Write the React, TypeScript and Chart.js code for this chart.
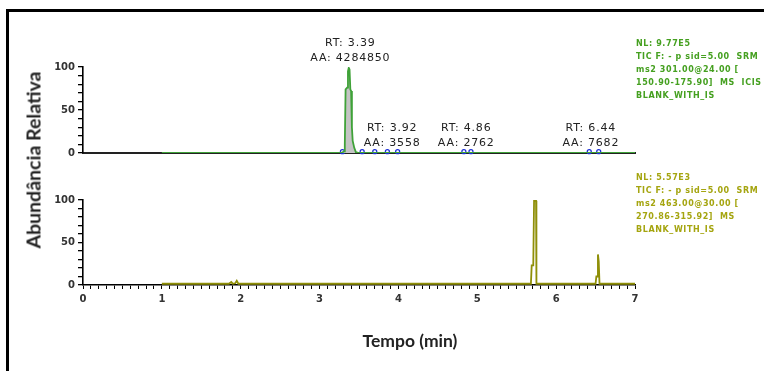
import React, { useEffect, useRef } from 'react';
import { Chart, registerables } from 'chart.js';
Chart.register(...registerables);

// ---- data ----
const timeMin = 0;
const timeMax = 7;
const abundanceTicks = [0, 50, 100];

// Top trace (TIC, SRM ms2 301.00)
const topTimes = [1.0, 2.0, 3.0, 3.28, 3.31, 3.32, 3.33, 3.35, 3.36, 3.37, 3.38, 3.39, 3.4, 3.41, 3.42, 3.44, 3.46, 3.5, 4.0, 5.0, 6.0, 7.0];
const topAbund = [0, 0, 0, 0, 2, 10, 74, 76, 95, 99, 97, 74, 72, 30, 14, 6, 1, 0, 0, 0, 0, 0];

// integration boundary markers (top trace)
const markerTimes = [3.29, 3.54, 3.7, 3.86, 3.99, 4.83, 4.92, 6.42, 6.54];
const markerAbund = [1.5, 1.5, 1.5, 1.5, 1.5, 1.5, 1.5, 1.5, 1.5];

// peak annotations (top trace)
const peakRT = [3.39, 3.92, 4.86, 6.44];
const peakArea = [4284850, 3558, 2762, 7682];
const peakHeight = [99, 0, 0, 0];

// Bottom trace (TIC, SRM ms2 463.00)
const bottomTimes = [1.0, 1.85, 1.88, 1.9, 1.93, 1.95, 1.97, 2.0, 3.0, 4.0, 5.0, 5.68, 5.69, 5.71, 5.72, 5.745, 5.75, 6.0, 6.5, 6.51, 6.52, 6.53, 6.54, 6.55, 7.0];
const bottomAbund = [1.5, 1.5, 3.5, 1.5, 2, 5, 1.5, 1.5, 1.5, 1.5, 1.5, 1.5, 23, 23, 99, 99, 1.5, 1.5, 1.5, 10, 10, 36, 28, 1.5, 1.5];

const topInfo = ['NL: 9.77E5', 'TIC F: - p sid=5.00  SRM', 'ms2 301.00@24.00 [', '150.90-175.90]  MS  ICIS', 'BLANK_WITH_IS'];
const bottomInfo = ['NL: 5.57E3', 'TIC F: - p sid=5.00  SRM', 'ms2 463.00@30.00 [', '270.86-315.92]  MS', 'BLANK_WITH_IS'];

const GREEN = '#3fa238';
const OLIVE = '#8f8f08';
const TICK_FONT = { family: '"DejaVu Sans", sans-serif', size: 10, weight: 'bold' as const };

const yAxis = () => ({
  type: 'linear',
  min: 0,
  max: 100,
  afterFit: (s: any) => { s.width = 40; },
  afterBuildTicks: (s: any) => {
    const t: any[] = [];
    for (let v = 0; v <= 100; v += 10) t.push({ value: v });
    s.ticks = t;
  },
  ticks: {
    autoSkip: false,
    padding: 3,
    color: '#333',
    font: TICK_FONT,
    callback: (v: any) => (abundanceTicks.includes(Math.round(Number(v))) ? String(Math.round(Number(v))) : ''),
  },
  grid: { drawOnChartArea: false, drawTicks: true, tickLength: 5, color: '#000', tickColor: '#000', lineWidth: 1.3 },
  border: { display: true, color: '#000', width: 1.6 },
});

const peakLabelPlugin = {
  id: 'peakLabels',
  afterDatasetsDraw(chart: any) {
    const { ctx, scales } = chart;
    const x = scales.x;
    const y = scales.y;
    ctx.save();
    ctx.font = '11px "DejaVu Sans", sans-serif';
    ctx.fillStyle = '#222';
    ctx.textAlign = 'center';
    ctx.textBaseline = 'bottom';
    (ctx as any).letterSpacing = '0.8px';
    peakRT.forEach((rt, i) => {
      const px = x.getPixelForValue(rt);
      const py = y.getPixelForValue(peakHeight[i]) - 4;
      ctx.fillText('AA: ' + peakArea[i], px, py);
      ctx.fillText('RT: ' + rt.toFixed(2), px, py - 15);
    });
    ctx.restore();
  },
};

export default function App() {
  const topRef = useRef<HTMLCanvasElement>(null);
  const botRef = useRef<HTMLCanvasElement>(null);

  useEffect(() => {
    const top = new Chart(topRef.current!, {
      type: 'line',
      data: {
        datasets: [
          {
            data: topTimes.map((t, i) => ({ x: t, y: topAbund[i] })),
            borderColor: GREEN,
            borderWidth: 1.8,
            backgroundColor: '#c4c4c4',
            fill: 'origin',
            pointRadius: 0,
            tension: 0,
          },
          {
            type: 'scatter',
            data: markerTimes.map((t, i) => ({ x: t, y: markerAbund[i] })),
            borderColor: '#1c2fd8',
            backgroundColor: 'rgba(255,255,255,0)',
            borderWidth: 1.3,
            pointRadius: 2,
            clip: false,
          } as any,
        ],
      },
      options: {
        responsive: false,
        animation: false,
        events: [],
        layout: { padding: { left: 43, right: 129, top: 67, bottom: 22 } },
        plugins: { legend: { display: false }, tooltip: { enabled: false } },
        scales: {
          x: {
            type: 'linear',
            min: timeMin,
            max: timeMax,
            afterFit: (s: any) => { s.height = 0; },
            ticks: { display: false },
            grid: { display: false, drawTicks: false },
            border: { display: true, color: '#222', width: 2 },
          },
          y: yAxis() as any,
        },
      },
      plugins: [peakLabelPlugin],
    });

    const bot = new Chart(botRef.current!, {
      type: 'line',
      data: {
        datasets: [
          {
            data: bottomTimes.map((t, i) => ({ x: t, y: bottomAbund[i] })),
            borderColor: OLIVE,
            borderWidth: 1.8,
            pointRadius: 0,
            fill: false,
            tension: 0,
          },
        ],
      },
      options: {
        responsive: false,
        animation: false,
        events: [],
        layout: { padding: { left: 43, right: 129, top: 25, bottom: 56 } },
        plugins: { legend: { display: false }, tooltip: { enabled: false } },
        scales: {
          x: {
            type: 'linear',
            min: timeMin,
            max: timeMax,
            afterFit: (s: any) => { s.height = 30; },
            afterBuildTicks: (s: any) => {
              const t: any[] = [];
              for (let k = 0; k <= 70; k++) t.push({ value: k / 10 });
              s.ticks = t;
            },
            ticks: {
              autoSkip: false,
              maxRotation: 0,
              padding: 4,
              color: '#333',
              font: TICK_FONT,
              callback: (v: any) => {
                const n = Number(v);
                return Math.abs(n - Math.round(n)) < 1e-6 ? String(Math.round(n)) : '';
              },
            },
            grid: { drawOnChartArea: false, drawTicks: true, tickLength: 4, color: '#000', lineWidth: 1 },
            border: { display: true, color: '#000', width: 1.6 },
          },
          y: yAxis() as any,
        },
      },
    });

    return () => {
      top.destroy();
      bot.destroy();
    };
  }, []);

  const infoStyle = (color: string, topPx: number): React.CSSProperties => ({
    position: 'absolute',
    left: 636,
    top: topPx,
    font: 'bold 8px "DejaVu Sans", sans-serif',
    letterSpacing: '0.6px',
    lineHeight: '13px',
    color,
    whiteSpace: 'pre',
  });

  return (
    <div style={{ position: 'fixed', left: 0, top: 0, width: 764, height: 371, overflow: 'hidden', background: '#fff' }}>
      <div
        style={{
          position: 'absolute', left: 6, top: 9, width: 900, height: 600,
          borderTop: '3px solid #000', borderLeft: '3px solid #000', boxSizing: 'border-box',
        }}
      />
      <canvas ref={topRef} width={764} height={175} style={{ position: 'absolute', left: 0, top: 0, width: 764, height: 175 }} />
      <canvas ref={botRef} width={764} height={196} style={{ position: 'absolute', left: 0, top: 175, width: 764, height: 196 }} />
      <div style={infoStyle('#45a020', 37)}>
        {topInfo.map((l, i) => <div key={i}>{l}</div>)}
      </div>
      <div style={infoStyle('#a5a510', 171)}>
        {bottomInfo.map((l, i) => <div key={i}>{l}</div>)}
      </div>
      <div
        style={{
          position: 'absolute', left: 33, top: 160, transform: 'translate(-50%, -50%) rotate(-90deg)',
          font: 'bold 19.5px Lato, "Open Sans", sans-serif', color: '#222', whiteSpace: 'nowrap',
        }}
      >
        Abundância Relativa
      </div>
      <div
        style={{
          position: 'absolute', left: 410, top: 340, transform: 'translate(-50%, -50%)',
          font: 'bold 17.5px Lato, "Open Sans", sans-serif', color: '#222', whiteSpace: 'nowrap',
        }}
      >
        Tempo (min)
      </div>
    </div>
  );
}
